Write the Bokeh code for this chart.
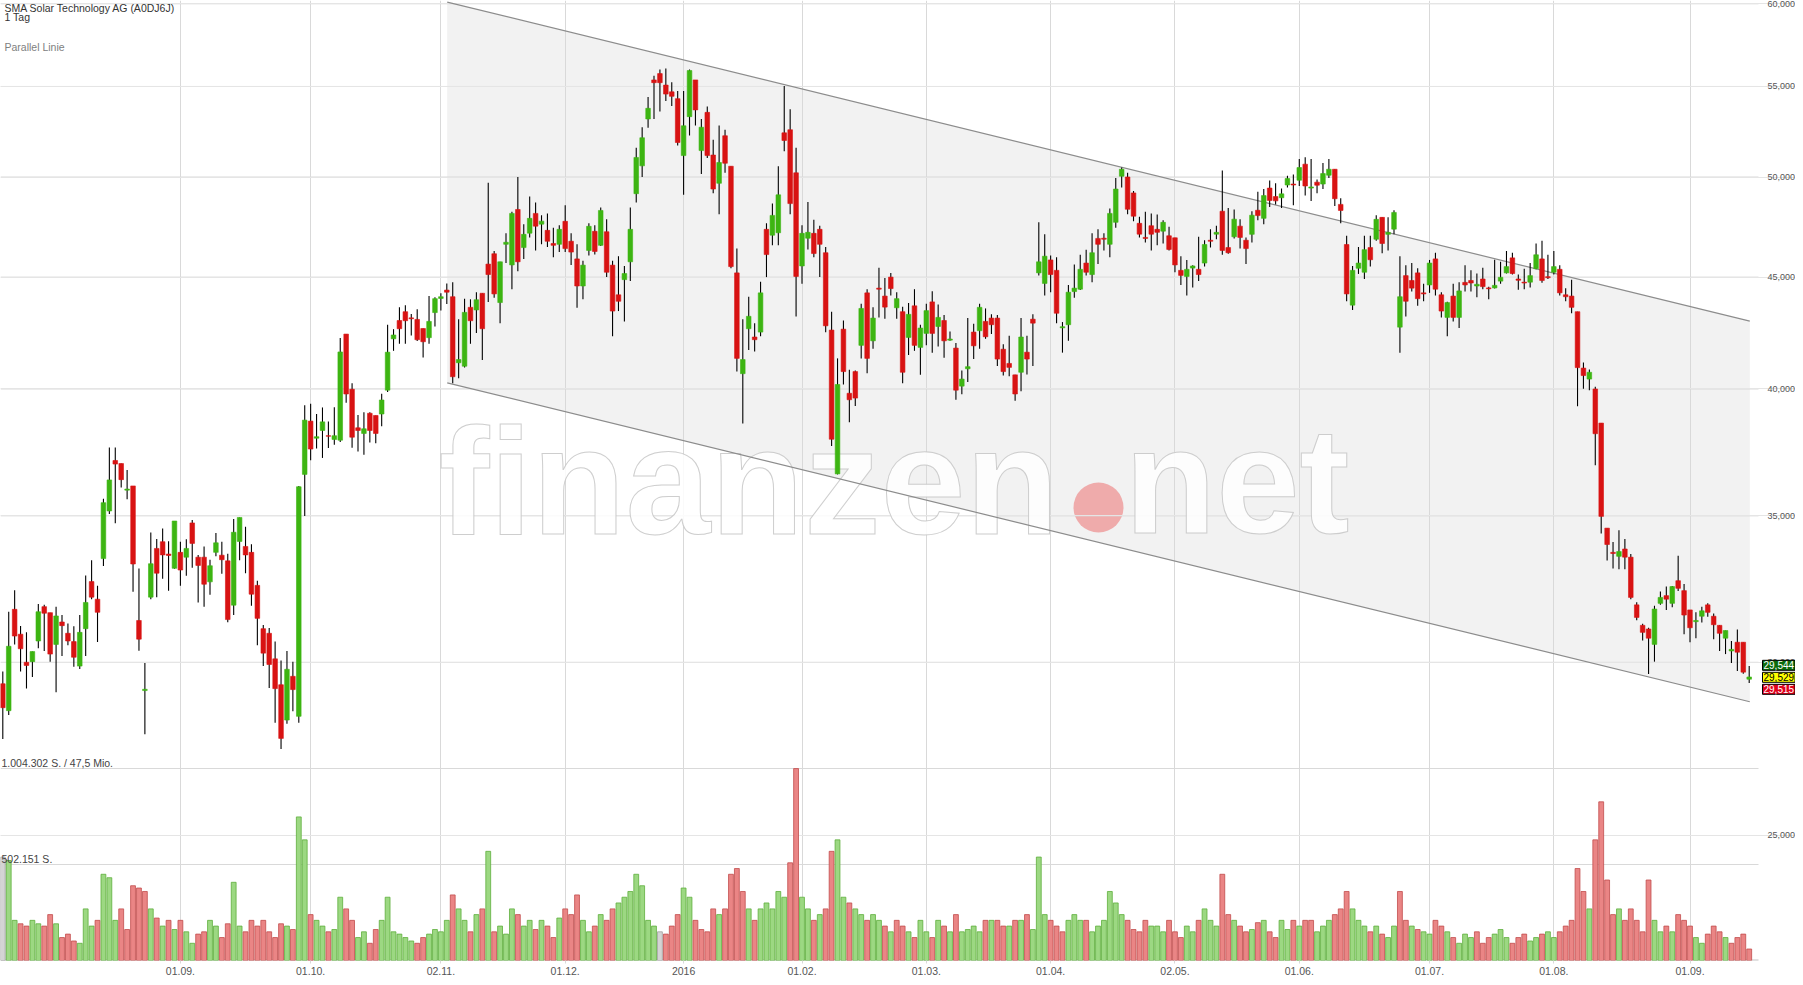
import numpy as np
from bokeh.plotting import figure
from bokeh.models import Range1d, LinearScale, FixedTicker, Label, ColumnDataSource
from bokeh.embed import file_html
from bokeh.resources import INLINE

# ---------------- data ----------------
title_text = "SMA Solar Technology AG (A0DJ6J)"
period_text = "1 Tag"
tool_text = "Parallel Linie"

month_ticks = [30, 52, 74, 95, 115, 135, 156, 177, 198, 219, 241, 262, 285]
month_labels = ["01.09.", "01.10.", "02.11.", "01.12.", "2016", "01.02.", "01.03.",
                "01.04.", "02.05.", "01.06.", "01.07.", "01.08.", "01.09."]
price_ticks = [25, 30, 35, 40, 45, 50, 55, 60]
price_labels = ["25,000", "30,000", "35,000", "40,000", "45,000", "50,000", "55,000", "60,000"]
vol_levels = [1004302, 502151]
vol_level_labels = ["1.004.302 S. / 47,5 Mio.", "502.151 S."]
quote_values = [29.544, 29.529, 29.515]
quote_labels = ["29,544", "29,529", "29,515"]

channel_x = [75.07, 295.1]
channel_upper = [60.11, 42.96]
channel_lower = [40.26, 28.78]

open_ = [29.33,28.51,31.72,30.90,30.00,30.02,30.68,31.81,31.61,30.57,31.30,30.93,30.66,29.88,31.08,32.66,32.06,33.46,35.18,37.10,
36.98,35.96,36.12,31.35,29.12,32.13,33.82,34.06,33.62,33.12,33.68,33.51,34.74,33.51,33.51,32.65,33.68,33.58,33.38,31.86,
34.07,33.89,33.68,32.53,31.08,30.93,30.11,29.30,28.23,29.56,28.34,36.56,38.67,37.98,38.29,38.08,37.93,37.90,42.38,39.99,
38.40,38.17,38.99,38.90,38.96,39.95,42.17,42.99,43.39,43.11,43.04,42.63,42.22,43.35,44.00,44.39,44.08,41.12,40.97,43.59,
43.47,44.24,45.62,46.12,43.81,46.58,45.58,48.32,46.42,47.13,48.12,47.58,47.27,46.62,46.58,47.72,46.73,45.87,44.58,46.28,
47.22,46.53,47.20,45.57,44.17,44.88,45.73,49.13,50.59,53.15,55.38,55.75,55.08,54.69,54.30,51.14,53.28,55.38,51.41,53.52,
51.17,49.67,52.22,50.57,45.20,40.65,42.62,42.25,42.47,47.32,47.03,47.15,52.38,52.55,50.22,45.53,46.88,47.12,47.32,46.17,
42.56,36.58,42.60,39.82,40.74,41.88,44.26,42.08,44.48,44.11,45.00,43.57,43.39,42.23,43.66,41.79,42.41,43.84,42.72,42.99,
42.11,41.76,40.12,40.86,42.47,42.53,42.95,43.10,43.10,41.71,41.09,40.60,40.71,41.58,43.05,45.20,44.70,45.82,45.32,42.66,
42.80,44.32,44.43,45.67,45.12,46.87,46.88,46.58,47.67,50.04,50.00,49.17,47.62,46.92,47.50,47.32,47.23,47.00,46.90,45.32,
45.03,45.43,45.37,45.67,46.78,47.08,48.23,46.42,46.95,47.48,46.78,47.07,48.28,47.87,49.42,48.98,48.92,49.58,49.63,49.83,
50.68,49.42,49.73,49.63,50.09,50.41,48.58,46.57,43.69,45.42,45.23,46.42,46.83,47.92,47.07,47.33,42.69,45.07,44.84,45.20,
44.26,44.63,45.87,44.17,43.13,44.11,43.13,44.75,44.84,44.58,44.91,44.49,44.49,44.81,45.20,45.92,44.91,44.76,44.76,45.40,
45.87,45.02,45.23,45.37,44.17,44.11,43.39,40.89,40.42,40.00,38.59,34.55,33.68,33.54,33.80,33.51,31.87,31.19,31.07,30.57,
31.92,32.18,31.92,32.69,32.35,31.70,31.31,31.49,31.87,31.49,31.19,30.77,30.36,30.64,30.64,29.47]
high = [29.71,31.64,32.36,31.17,30.96,30.34,31.90,31.87,31.61,31.81,31.53,31.25,31.16,31.53,32.87,33.40,32.52,35.64,37.61,37.61,
36.98,36.73,36.12,33.11,29.98,34.39,34.16,34.54,34.08,34.81,34.06,34.15,34.85,33.59,33.89,33.42,34.37,34.06,33.63,34.88,
34.94,34.60,33.97,32.69,31.20,31.10,30.66,30.06,30.36,30.02,36.12,39.32,39.38,38.96,39.23,38.65,39.24,42.21,42.38,40.24,
38.92,39.03,39.03,38.90,39.80,42.80,42.60,43.59,43.69,43.29,43.50,42.63,44.11,44.05,44.24,44.70,44.76,43.05,43.99,43.96,
44.29,44.24,49.70,46.25,45.73,47.12,48.20,50.00,47.57,48.98,48.67,48.03,48.12,47.40,47.53,48.53,47.13,46.58,45.78,47.62,
47.53,48.42,47.82,45.78,46.00,45.53,48.42,51.56,52.69,54.40,55.63,55.99,56.05,55.24,54.74,54.74,55.99,55.38,53.15,53.85,
52.00,52.78,52.55,50.57,46.37,43.05,44.08,42.87,44.78,47.62,48.62,50.57,55.02,53.70,51.56,47.53,48.70,47.80,47.50,46.45,
43.39,41.31,42.99,40.82,40.79,43.76,44.43,43.59,45.45,44.96,45.20,44.29,43.62,43.79,44.43,42.80,43.76,44.33,43.72,43.24,
42.50,41.98,40.79,43.10,42.84,43.76,43.54,43.27,43.24,41.93,42.31,40.60,43.10,42.31,43.27,47.67,47.07,46.03,45.95,42.92,
44.63,45.60,46.07,46.32,47.12,47.32,47.12,48.37,49.95,50.50,50.22,49.27,47.95,48.20,48.12,48.07,47.78,47.45,46.90,46.00,
45.82,45.57,46.95,46.78,47.33,47.50,50.35,48.40,48.32,47.82,46.92,48.23,49.23,49.37,49.82,49.67,49.40,50.07,50.13,50.96,
51.05,50.96,49.87,50.74,50.96,50.41,48.90,47.00,45.53,46.45,47.00,47.00,48.03,47.92,47.92,48.28,46.00,45.57,45.67,45.42,
44.69,45.82,46.17,44.29,43.85,44.69,44.76,45.57,45.32,45.17,45.45,44.54,45.83,45.73,46.25,46.17,45.12,45.40,45.67,46.62,
46.75,46.07,46.25,45.57,44.48,44.88,43.39,41.13,40.83,40.09,38.59,34.55,34.05,34.47,34.16,33.62,31.96,31.24,31.11,31.84,
32.32,32.49,32.51,33.56,32.58,31.70,31.62,31.81,31.92,31.58,31.19,31.02,30.68,31.05,30.64,29.88]
low = [27.67,28.38,30.57,29.71,29.18,29.54,30.45,30.36,30.02,29.07,30.20,30.54,29.86,29.79,30.20,32.06,30.65,33.20,35.07,34.73,
36.06,35.62,32.31,30.37,27.81,32.06,32.13,32.76,32.35,33.10,32.52,32.86,33.14,31.95,31.81,32.21,33.54,32.93,31.29,31.53,
33.40,32.95,31.84,30.54,29.88,29.20,28.15,27.38,28.12,28.49,28.15,34.99,37.11,37.57,37.20,37.59,37.72,37.83,39.42,37.60,
37.45,37.32,37.81,37.78,38.46,39.87,41.64,41.95,41.95,42.32,42.07,41.35,41.95,42.72,43.44,43.74,40.24,40.46,40.92,41.95,
42.43,41.24,43.84,44.03,42.87,45.67,44.43,45.28,45.87,46.92,46.28,46.58,46.45,45.95,46.20,46.20,45.58,43.57,43.96,46.03,
46.08,46.50,45.00,42.28,43.42,42.95,44.81,48.67,50.00,52.66,53.15,53.57,54.16,53.88,51.68,49.08,52.23,52.78,50.16,51.01,
49.15,48.08,50.22,45.42,40.74,38.57,41.68,41.61,42.28,45.00,46.53,46.53,51.37,48.08,43.17,44.69,46.33,45.95,45.00,42.46,
37.67,36.56,40.19,38.62,39.29,41.31,40.67,41.73,43.13,43.07,44.14,43.07,40.24,41.46,41.64,40.60,41.88,41.56,41.83,41.34,
42.08,39.55,39.78,40.30,41.28,41.73,42.17,42.38,40.98,40.57,40.54,39.51,39.91,40.61,40.98,45.07,44.14,44.29,42.87,41.56,
42.08,44.03,44.39,45.07,44.76,45.62,46.28,45.95,47.40,49.45,48.08,47.73,46.92,46.67,46.28,46.53,46.62,46.28,45.23,44.63,
44.14,44.51,44.81,45.50,46.42,46.83,46.07,46.12,46.87,46.37,45.62,46.67,47.78,47.57,48.45,48.58,48.40,49.45,48.53,49.53,
49.03,48.75,49.15,49.37,49.95,48.50,47.63,43.87,43.47,45.15,44.91,45.50,46.75,46.15,46.28,47.08,41.56,43.17,44.32,43.66,
43.87,44.26,44.14,43.13,42.28,42.95,42.65,44.32,44.32,44.06,44.43,43.96,44.46,44.69,45.17,45.12,44.40,44.43,44.51,45.37,
44.73,44.91,45.12,44.14,43.87,43.32,39.28,40.01,39.95,36.91,34.36,33.39,33.11,33.09,33.09,32.06,31.36,30.70,29.63,30.02,
31.87,31.70,31.79,32.34,30.90,30.64,30.77,31.28,31.47,30.74,30.36,30.26,29.98,29.73,29.64,29.35]
close = [28.60,30.51,30.84,30.43,29.90,30.34,31.64,31.59,30.26,31.50,31.18,30.68,30.16,30.96,31.95,32.13,31.62,35.49,36.35,36.96,
36.36,36.00,33.27,30.74,29.16,33.28,32.95,33.59,33.57,34.81,33.06,33.82,34.00,33.22,32.57,33.21,34.02,33.42,31.38,34.40,
34.94,33.59,32.23,31.42,30.29,29.93,29.18,27.69,29.78,29.15,36.09,38.71,37.55,38.04,38.64,38.06,38.08,41.59,39.79,38.02,
38.29,38.36,38.29,38.17,39.54,41.58,42.34,42.62,42.98,43.07,42.13,42.04,42.95,43.99,44.08,44.29,40.52,41.26,43.36,42.98,
43.94,42.62,45.12,44.21,45.73,46.68,48.12,45.73,47.07,47.87,47.48,47.73,46.73,46.53,47.32,46.37,46.20,44.58,45.57,47.47,
46.23,48.27,45.23,43.42,43.87,45.17,47.32,51.04,52.11,53.75,55.22,55.22,54.56,54.43,51.85,52.77,55.93,53.66,52.69,51.14,
49.37,50.77,50.73,45.50,41.31,41.26,43.18,42.13,44.26,46.08,48.02,49.07,51.96,48.62,45.03,47.12,47.17,46.13,46.58,42.75,
37.94,40.19,40.74,39.55,39.62,43.54,41.31,43.10,44.43,43.60,44.46,43.99,40.71,43.27,41.88,42.65,43.44,42.41,43.13,42.08,
42.16,39.95,40.42,40.95,41.86,43.59,42.26,42.80,41.28,40.74,40.92,39.79,42.25,41.28,42.87,45.73,46.00,45.12,43.32,42.71,
44.29,44.48,45.37,45.23,46.17,46.58,46.83,48.12,49.37,50.41,48.33,47.98,47.08,46.87,47.08,47.17,47.67,46.33,45.58,45.08,
45.37,45.53,45.12,46.57,46.73,47.17,46.28,46.17,47.83,46.92,46.37,48.03,48.01,49.03,48.78,48.76,49.12,49.92,49.58,50.50,
49.53,49.48,49.57,50.18,50.41,48.87,48.27,44.21,45.32,45.67,46.32,45.83,47.82,46.62,47.17,48.17,44.08,43.87,44.48,43.99,
44.21,45.67,44.43,43.42,43.81,43.13,44.35,44.63,44.72,44.66,44.55,44.45,44.61,44.99,45.50,45.17,44.85,44.72,45.07,46.07,
44.84,44.97,45.50,44.26,44.08,43.59,40.91,40.57,40.71,38.16,34.98,33.96,33.64,33.71,33.51,32.12,31.45,30.96,30.77,31.73,
32.12,32.06,32.49,32.43,31.53,31.11,31.35,31.67,31.62,31.21,30.93,31.02,30.41,30.32,29.69,29.54]
volume_thousands = [541,523,210,192,180,210,192,180,240,192,120,138,102,90,270,180,210,451,433,210,
270,162,391,379,361,270,222,180,210,162,210,150,90,138,150,210,180,120,192,409,
180,150,210,180,210,150,120,192,180,162,751,631,240,210,180,150,162,331,270,210,
120,150,90,162,210,331,150,138,120,102,90,120,138,162,150,210,343,270,210,150,
240,270,571,150,180,138,270,240,180,210,162,210,180,120,222,270,240,343,210,150,
180,240,210,270,301,331,361,451,391,210,180,150,138,180,240,379,331,210,162,150,
270,240,270,451,481,361,270,210,270,301,270,361,331,511,1004,331,270,210,240,270,
571,631,331,301,270,240,210,240,210,180,150,210,180,150,120,210,150,120,210,180,
150,240,150,162,180,150,210,210,210,180,180,210,210,240,162,541,240,210,180,150,
210,240,210,210,150,180,210,361,301,240,210,162,150,210,180,180,150,210,150,120,
180,150,210,270,210,180,451,240,210,180,150,162,198,210,150,120,210,162,210,180,
210,210,150,180,210,240,270,361,270,210,180,150,180,138,120,180,361,210,180,162,
150,138,210,180,150,120,90,138,120,150,90,120,138,162,120,90,120,138,102,120,
138,150,120,150,180,210,481,361,270,631,830,421,240,270,210,270,210,150,421,210,
150,180,150,240,210,180,120,90,138,180,150,120,90,120,138,60]

# ---------------- layout constants ----------------
FRAME_W, FRAME_H = 1795, 960     # drawing frame (includes the price-label strip at right)
PLOT_W = 1758                    # width of the chart area (grid lines end here)
PX0, DX = 2.3, 5.92              # pixel of first candle, pixels per trading day
Y_REF, K_LOG, P_REF = 3.3, 950.0, 60.0

def px_to_x(px):
    return (px - PX0) / DX

def py_to_price(py):
    return P_REF * np.exp(-(py - Y_REF) / K_LOG)

GREEN, RED = "#3db512", "#d81313"
GRID = "#d9d9d9"
FONT = "Liberation Sans"

o = np.array(open_); h = np.array(high); l = np.array(low); c = np.array(close)
n = len(c)
xs = np.arange(n)
up = c >= o
body_col = np.where(up, GREEN, RED)

vcol, vline = [], []
for i in range(n):
    if i == 0 or c[i] == c[i - 1]:
        vcol.append("#d4d4d4"); vline.append("#a0a0a0")
    elif c[i] > c[i - 1]:
        vcol.append("#9cd882"); vline.append("#5eae3c")
    else:
        vcol.append("#ea8585"); vline.append("#c24c4c")

vol_top_range = vol_levels[0] * FRAME_H / 192.0

p = figure(frame_width=FRAME_W, frame_height=FRAME_H,
           x_range=Range1d(px_to_x(0), px_to_x(FRAME_W)),
           y_range=Range1d(py_to_price(FRAME_H), py_to_price(0)),
           y_axis_type="log", y_axis_location=None,
           output_backend="svg", toolbar_location=None,
           min_border_left=0, min_border_top=0, min_border_right=0, min_border_bottom=0)
p.outline_line_color = None
p.background_fill_color = "white"
p.extra_y_ranges = {"vol": Range1d(0, vol_top_range)}
p.extra_y_scales = {"vol": LinearScale()}

x_left, x_right = px_to_x(0), px_to_x(PLOT_W)

# bottom axis
xa = p.xaxis[0]
xa.ticker = FixedTicker(ticks=month_ticks, minor_ticks=[])
xa.major_label_overrides = {t: s for t, s in zip(month_ticks, month_labels)}
xa.axis_line_color = None
xa.major_tick_line_color = GRID
xa.major_tick_out = 3
xa.major_tick_in = 0
xa.minor_tick_line_color = None
xa.major_label_standoff = 3
xa.major_label_text_font = FONT
xa.major_label_text_font_size = "10.5px"
xa.major_label_text_color = "#555555"

p.xgrid.ticker = FixedTicker(ticks=month_ticks)
p.xgrid.grid_line_color = GRID
p.xgrid.level = "underlay"

# channel (lowest level)
p.patch(channel_x + channel_x[::-1], channel_upper + channel_lower[::-1],
        fill_color="#f2f2f2", line_color=None, level="image")

# watermark
wm_kw = dict(x_units="screen", y_units="screen", text_font=FONT,
             text_font_style="bold", text_color="white", text_alpha=0.85,
             text_baseline="middle", text_outline_color="#c6c6c6", level="underlay")
p.add_layout(Label(x=438, y=FRAME_H - 480, text="finanzen", text_font_size="153px", **wm_kw))
p.add_layout(Label(x=1124, y=FRAME_H - 480, text="net", text_font_size="150px", **wm_kw))
p.scatter([px_to_x(1098)], [py_to_price(507)], size=50, fill_color="#eea3a3",
          line_color=None, fill_alpha=0.9, level="underlay")

# horizontal price grid lines (end at chart edge) and volume grid lines
nt = len(price_ticks)
p.segment(x0=[x_left] * nt, x1=[x_right] * nt, y0=price_ticks, y1=price_ticks,
          line_color=GRID, line_width=1, level="underlay")
p.segment(x0=[x_left] * 2, x1=[x_right] * 2, y0=vol_levels, y1=vol_levels,
          line_color=GRID, line_width=1, level="underlay", y_range_name="vol")
p.segment(x0=[x_left], x1=[x_right], y0=[0], y1=[0], line_color="#c4c4c4",
          line_width=2, level="underlay", y_range_name="vol")

p.line(channel_x, channel_upper, line_color="#8c8c8c", line_width=1.2)
p.line(channel_x, channel_lower, line_color="#8c8c8c", line_width=1.2)

# volume
vsrc = ColumnDataSource(dict(x=xs, top=np.array(volume_thousands) * 1000.0, fc=vcol, lc=vline))
p.vbar(x="x", top="top", bottom=0, width=0.82, source=vsrc, y_range_name="vol",
       fill_color="fc", line_color="lc", line_width=0.8)

# candles
csrc = ColumnDataSource(dict(x=xs, o=o, h=h, l=l, c=c,
                             top=np.maximum(o, c), bot=np.minimum(o, c), col=body_col))
p.segment(x0="x", y0="h", x1="x", y1="l", source=csrc, line_color="black", line_width=1.1)
p.vbar(x="x", top="top", bottom="bot", width=0.78, source=csrc,
       fill_color="col", line_color="col", line_width=0.6)

# price scale labels (right strip)
for t, s in zip(price_ticks, price_labels):
    p.add_layout(Label(x=PLOT_W + 9, x_units="screen", y=t, y_units="data", text=s,
                       text_font=FONT, text_font_size="9px", text_color="#555555",
                       text_baseline="middle"))

# texts
txt = dict(x_units="screen", y_units="screen", text_font=FONT, text_baseline="top")
p.add_layout(Label(x=4, y=FRAME_H - 1, text=title_text, text_font_size="10.5px", text_color="#333333", **txt))
p.add_layout(Label(x=4, y=FRAME_H - 10.5, text=period_text, text_font_size="10.5px", text_color="#333333", **txt))
p.add_layout(Label(x=4, y=FRAME_H - 40, text=tool_text, text_font_size="10.5px", text_color="#808080", **txt))
for lvl, lab in zip(vol_levels, vol_level_labels):
    p.add_layout(Label(x=1, x_units="screen", y=lvl, y_units="data", y_range_name="vol",
                       text=lab, text_font=FONT, text_font_size="10.5px",
                       text_color="#444444", text_baseline="bottom"))

# quote boxes
box_styles = [("#0b6b0b", "white", 12), ("#ffff00", "black", 0), ("#e0001b", "white", -12)]
for (bg, fg, off), lab in zip(box_styles, quote_labels):
    p.add_layout(Label(x=PLOT_W + 4, x_units="screen", y=quote_values[1], y_units="data",
                       y_offset=off, text=lab, text_font=FONT, text_font_size="10px",
                       text_color=fg, text_baseline="middle", background_fill_color=bg,
                       border_line_color="black", border_line_width=1, padding=1))

open("out.html", "w").write(file_html(p, INLINE))
